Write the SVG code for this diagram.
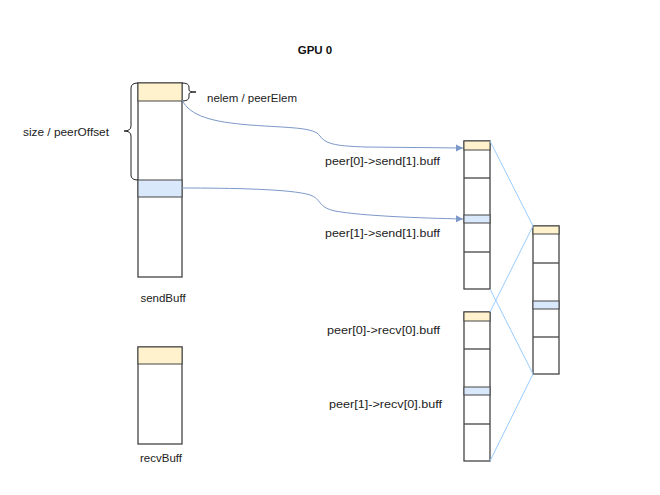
<svg xmlns="http://www.w3.org/2000/svg" width="660" height="495" viewBox="0 0 660 495">
<defs>
<style>
.t{font-family:"Liberation Sans",Arial,sans-serif;font-size:11.5px;fill:#222}
.b{fill:#fff;stroke:#444;stroke-width:1.3}
.y{fill:#fff2cc;stroke:#444;stroke-width:1}
.u{fill:#dae8fc;stroke:#444;stroke-width:1}
.l{stroke:#444;stroke-width:1.3}
.c{fill:none;stroke:#7c98c8;stroke-width:1}
.g{fill:none;stroke:#99ccff;stroke-width:1}
.br{fill:none;stroke:#222;stroke-width:1}
</style>
<marker id="ah" markerWidth="8" markerHeight="8" refX="7" refY="4" orient="auto" markerUnits="userSpaceOnUse">
<path d="M0,0.5 L7,4 L0,7.5 Z" fill="#7c98c8"/>
</marker>
</defs>
<rect width="660" height="495" fill="#fff"/>
<text x="315" y="54" text-anchor="middle" style="font-family:'Liberation Sans',Arial,sans-serif;font-size:11.5px;font-weight:bold;fill:#111">GPU 0</text>

<g id="sendBuff">
<rect class="b" x="138" y="83" width="44" height="194"/>
<rect class="y" x="138" y="83" width="44" height="18"/>
<rect class="u" x="138" y="180" width="44" height="17"/>
<text class="t" x="163" y="302" text-anchor="middle">sendBuff</text>
</g>
<g id="sizeBrace">
<path class="br" d="M138,83 Q131,83 131,88 L131,126 Q131,131 124,131 Q131,131 131,136 L131,175 Q131,180 138,180"/>
<text class="t" x="23" y="136" textLength="86" lengthAdjust="spacingAndGlyphs">size / peerOffset</text>
</g>
<g id="nelemBrace">
<path class="br" d="M182,83 Q189,83 189,87 L189,90 Q189,92 196,92 Q189,92 189,94 L189,97 Q189,101 182,101"/>
<text class="t" x="207" y="101.5" textLength="90" lengthAdjust="spacingAndGlyphs">nelem / peerElem</text>
</g>

<g id="recvBuff">
<rect class="b" x="138" y="347" width="44" height="97"/>
<rect class="y" x="138" y="347" width="44" height="17"/>
<text class="t" x="161" y="462" text-anchor="middle">recvBuff</text>
</g>

<g id="peerSend">
<rect class="b" x="464" y="141" width="26" height="148"/>
<rect class="y" x="464" y="141" width="26" height="9"/>
<line class="l" x1="464" y1="178" x2="490" y2="178"/>
<rect class="u" x="464" y="215" width="26" height="8"/>
<line class="l" x1="464" y1="252" x2="490" y2="252"/>
<text class="t" x="325" y="165" textLength="115" lengthAdjust="spacingAndGlyphs">peer[0]-&gt;send[1].buff</text>
<text class="t" x="325" y="237" textLength="115" lengthAdjust="spacingAndGlyphs">peer[1]-&gt;send[1].buff</text>
</g>

<g id="peerRecv">
<rect class="b" x="464" y="312" width="26" height="149"/>
<rect class="y" x="464" y="312" width="26" height="9"/>
<line class="l" x1="464" y1="349" x2="490" y2="349"/>
<rect class="u" x="464" y="387" width="26" height="8"/>
<line class="l" x1="464" y1="424" x2="490" y2="424"/>
<text class="t" x="327" y="334" textLength="113" lengthAdjust="spacingAndGlyphs">peer[0]-&gt;recv[0].buff</text>
<text class="t" x="329" y="408" textLength="113" lengthAdjust="spacingAndGlyphs">peer[1]-&gt;recv[0].buff</text>
</g>

<g id="peerBuf">
<rect class="b" x="533" y="226" width="26" height="148"/>
<rect class="y" x="533" y="226" width="26" height="8"/>
<line class="l" x1="533" y1="263" x2="559" y2="263"/>
<rect class="u" x="533" y="301" width="26" height="8"/>
<line class="l" x1="533" y1="337" x2="559" y2="337"/>
</g>

<g id="connectors">
<path class="c" marker-end="url(#ah)" d="M182,100 C190,116 212,122 250,125 C290,128 314,127 320,136 C326,145 340,146 365,147 L463,148"/>
<path class="c" marker-end="url(#ah)" d="M182,188 C230,188 292,189 310,195 C322,199 317,207 335,211 C362,216 420,218 463,219"/>
<line class="g" x1="490" y1="141" x2="533" y2="226"/>
<line class="g" x1="490" y1="289" x2="533" y2="374"/>
<line class="g" x1="490" y1="312" x2="533" y2="226"/>
<line class="g" x1="490" y1="461" x2="533" y2="374"/>
</g>
</svg>
